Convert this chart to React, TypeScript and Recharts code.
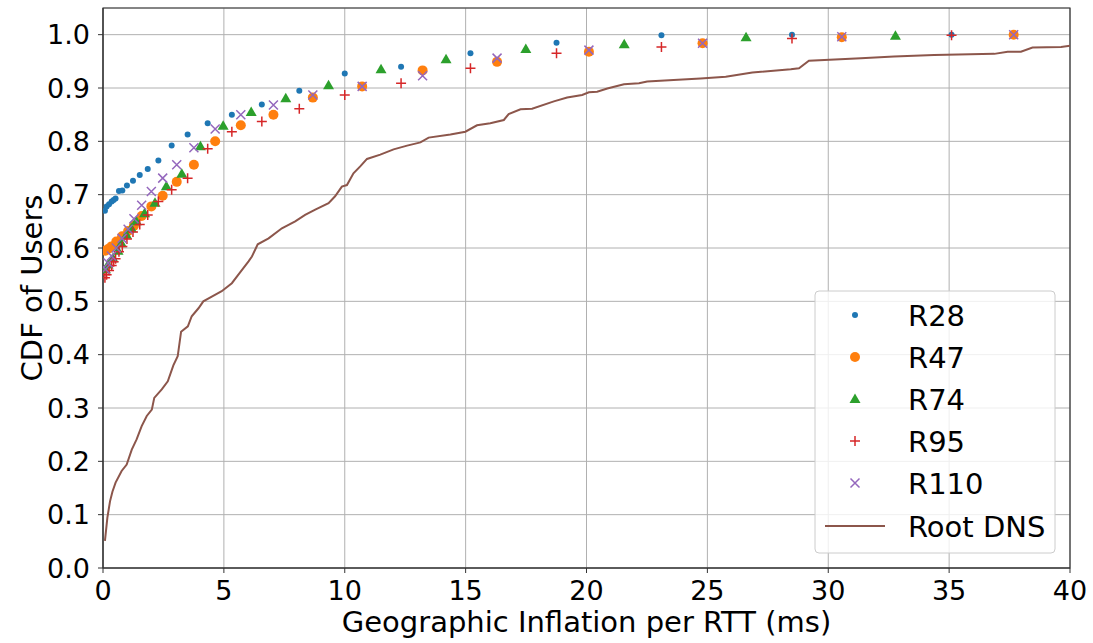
import React from 'react';
import {
  ComposedChart,
  Scatter,
  Line,
  XAxis,
  YAxis,
  CartesianGrid,
  ReferenceArea,
} from 'recharts';

// axis ticks
const xTicks = [0, 5, 10, 15, 20, 25, 30, 35, 40];
const yTicks = [0, 0.1, 0.2, 0.3, 0.4, 0.5, 0.6, 0.7, 0.8, 0.9, 1.0];

// R28 and R95 were sampled at the same x values
const r28X = [0.08, 0.15, 0.25, 0.36, 0.44, 0.52, 0.66, 0.8, 0.99, 1.24, 1.52, 1.85, 2.29, 2.84, 3.5, 4.33, 5.33, 6.57, 8.12, 10.0, 12.33, 15.2, 18.76, 23.1, 28.5, 35.1];
const r28Y = [0.67, 0.678, 0.682, 0.687, 0.69, 0.693, 0.707, 0.708, 0.717, 0.726, 0.737, 0.748, 0.764, 0.792, 0.813, 0.834, 0.85, 0.869, 0.895, 0.927, 0.94, 0.965, 0.985, 0.999, 1.0, 1.0];
const r95Y = [0.544, 0.55, 0.558, 0.567, 0.574, 0.58, 0.593, 0.603, 0.617, 0.63, 0.644, 0.662, 0.687, 0.709, 0.731, 0.786, 0.818, 0.837, 0.861, 0.887, 0.909, 0.937, 0.965, 0.977, 0.993, 0.999];

// R47 and R110 share x values too
const r47X = [0.1, 0.21, 0.35, 0.55, 0.79, 1.04, 1.28, 1.6, 2.0, 2.47, 3.05, 3.76, 4.64, 5.7, 7.05, 8.68, 10.72, 13.22, 16.3, 20.1, 24.8, 30.56, 37.67];
const r47Y = [0.595, 0.598, 0.603, 0.612, 0.622, 0.632, 0.642, 0.66, 0.678, 0.698, 0.724, 0.756, 0.8, 0.83, 0.85, 0.882, 0.903, 0.933, 0.949, 0.968, 0.984, 0.995, 1.0];
const r110Y = [0.56, 0.572, 0.585, 0.6, 0.618, 0.635, 0.655, 0.68, 0.706, 0.731, 0.756, 0.788, 0.823, 0.85, 0.868, 0.887, 0.903, 0.923, 0.956, 0.971, 0.984, 0.996, 1.0];

const r74X = [0.1, 0.21, 0.41, 0.62, 0.76, 0.97, 1.17, 1.38, 1.72, 2.15, 2.62, 3.26, 4.03, 4.97, 6.13, 7.56, 9.33, 11.5, 14.19, 17.49, 21.56, 26.6, 32.78];
const r74Y = [0.56, 0.569, 0.581, 0.595, 0.609, 0.625, 0.637, 0.65, 0.665, 0.685, 0.716, 0.739, 0.791, 0.829, 0.855, 0.881, 0.905, 0.935, 0.954, 0.973, 0.982, 0.995, 0.998];

// Root DNS curve
const rootX = [0.08, 0.18, 0.29, 0.39, 0.52, 0.77, 0.98, 1.19, 1.39, 1.6, 1.81, 2.02, 2.12, 2.43, 2.68, 2.91, 3.09, 3.23, 3.51, 3.67, 3.95, 4.15, 4.5, 4.91, 5.33, 5.6, 6.02, 6.16, 6.4, 6.85, 7.4, 7.95, 8.36, 8.78, 9.33, 9.6, 9.88, 10.09, 10.36, 10.64, 10.92, 11.47, 12.02, 12.58, 13.13, 13.47, 14.37, 14.99, 15.47, 16.02, 16.58, 16.78, 17.27, 17.75, 18.65, 19.2, 19.82, 20.1, 20.44, 20.86, 21.55, 22.17, 22.51, 23.6, 24.72, 25.76, 26.86, 28.45, 28.79, 29.2, 31.35, 32.72, 34.38, 36.87, 37.42, 37.97, 38.45, 39.63, 40.0];
const rootY = [0.051, 0.094, 0.125, 0.143, 0.16, 0.182, 0.194, 0.222, 0.241, 0.266, 0.285, 0.297, 0.319, 0.335, 0.35, 0.38, 0.397, 0.443, 0.453, 0.472, 0.487, 0.5, 0.509, 0.519, 0.534, 0.55, 0.575, 0.584, 0.607, 0.618, 0.637, 0.65, 0.662, 0.672, 0.684, 0.697, 0.715, 0.718, 0.74, 0.753, 0.767, 0.775, 0.785, 0.792, 0.798, 0.807, 0.813, 0.818, 0.83, 0.834, 0.84, 0.851, 0.86, 0.861, 0.875, 0.882, 0.887, 0.892, 0.893, 0.899, 0.907, 0.909, 0.912, 0.915, 0.918, 0.921, 0.929, 0.935, 0.937, 0.951, 0.956, 0.959, 0.962, 0.964, 0.968, 0.968, 0.976, 0.977, 0.979];

const toPoints = (xs: number[], ys: number[]) => xs.map((x, i) => ({ x, y: ys[i] }));

const FONT = 'DejaVu Sans';

type Kind = 'dot' | 'circle' | 'triangle' | 'plus' | 'cross';

const Marker = ({ kind, cx, cy }: { kind: Kind; cx: number; cy: number }) => {
  if (kind === 'dot') return <circle cx={cx} cy={cy} r={3} fill="#1f77b4" />;
  if (kind === 'circle') return <circle cx={cx} cy={cy} r={5} fill="#ff7f0e" />;
  if (kind === 'triangle')
    return <path d={`M${cx},${cy - 5.5}L${cx + 5.5},${cy + 4}L${cx - 5.5},${cy + 4}Z`} fill="#2ca02c" />;
  if (kind === 'plus')
    return <path d={`M${cx - 5},${cy}H${cx + 5}M${cx},${cy - 5}V${cy + 5}`} stroke="#d62728" strokeWidth={1.5} fill="none" />;
  return (
    <path
      d={`M${cx - 4.5},${cy - 4.5}L${cx + 4.5},${cy + 4.5}M${cx + 4.5},${cy - 4.5}L${cx - 4.5},${cy + 4.5}`}
      stroke="#9467bd"
      strokeWidth={1.5}
      fill="none"
    />
  );
};

const series: { name: string; kind: Kind; data: { x: number; y: number }[] }[] = [
  { name: 'R28', kind: 'dot', data: toPoints(r28X, r28Y) },
  { name: 'R47', kind: 'circle', data: toPoints(r47X, r47Y) },
  { name: 'R74', kind: 'triangle', data: toPoints(r74X, r74Y) },
  { name: 'R95', kind: 'plus', data: toPoints(r28X, r95Y) },
  { name: 'R110', kind: 'cross', data: toPoints(r47X, r110Y) },
];

const LegendBox = () => (
  <svg width={242} height={264} style={{ display: 'block' }}>
    <rect x={1} y={1} width={240} height={262} rx={4} fill="rgba(255,255,255,0.8)" stroke="#cccccc" />
    {series.map((s, i) => (
      <g key={s.name}>
        <Marker kind={s.kind} cx={41} cy={25 + i * 42} />
        <text x={94} y={25 + i * 42 + 10.5} fontSize={29} fontFamily={FONT} fill="#000">
          {s.name}
        </text>
      </g>
    ))}
    <line x1={11} x2={71} y1={236} y2={236} stroke="#8c564b" strokeWidth={2} />
    <text x={94} y={246.5} fontSize={29} fontFamily={FONT} fill="#000">
      Root DNS
    </text>
  </svg>
);

export default function App() {
  return (
    <div style={{ position: 'absolute', left: 0, top: 0, width: 1093, height: 643, background: '#fff' }}>
      <ComposedChart width={1093} height={643} margin={{ top: 8, right: 23, bottom: 0, left: 0 }}>
        <CartesianGrid stroke="#b0b0b0" strokeWidth={1} />
        <XAxis
          type="number"
          dataKey="x"
          domain={[0, 40]}
          ticks={xTicks}
          interval={0}
          allowDataOverflow
          height={75}
          tickSize={5}
          tickMargin={8}
          stroke="#333"
          tick={{ fill: '#000', fontSize: 27, fontFamily: FONT }}
          label={{
            value: 'Geographic Inflation per RTT (ms)',
            position: 'insideBottom',
            offset: 11,
            fill: '#000',
            fontSize: 29,
            fontFamily: FONT,
          }}
        />
        <YAxis
          type="number"
          dataKey="y"
          domain={[0, 1.05]}
          ticks={yTicks}
          interval={0}
          allowDataOverflow
          width={103}
          tickSize={5}
          tickMargin={8}
          stroke="#333"
          tickFormatter={(v: number) => v.toFixed(1)}
          tick={{ fill: '#000', fontSize: 27, fontFamily: FONT }}
          label={{
            value: 'CDF of Users',
            angle: -90,
            position: 'center',
            dx: -20,
            fill: '#000',
            fontSize: 29,
            fontFamily: FONT,
          }}
        />
        <ReferenceArea x1={0} x2={40} y1={0} y2={1.05} fill="none" stroke="#333" strokeWidth={1.2} ifOverflow="visible" />
        {series.map((s) => (
          <Scatter
            key={s.name}
            name={s.name}
            data={s.data}
            dataKey="y"
            isAnimationActive={false}
            shape={(p: any) => <Marker kind={s.kind} cx={p.cx} cy={p.cy} />}
          />
        ))}
        <Line
          name="Root DNS"
          data={toPoints(rootX, rootY)}
          dataKey="y"
          type="linear"
          stroke="#8c564b"
          strokeWidth={2}
          dot={false}
          activeDot={false}
          isAnimationActive={false}
        />
      </ComposedChart>
      <div style={{ position: 'absolute', left: 814, top: 290 }}>
        <LegendBox />
      </div>
    </div>
  );
}
